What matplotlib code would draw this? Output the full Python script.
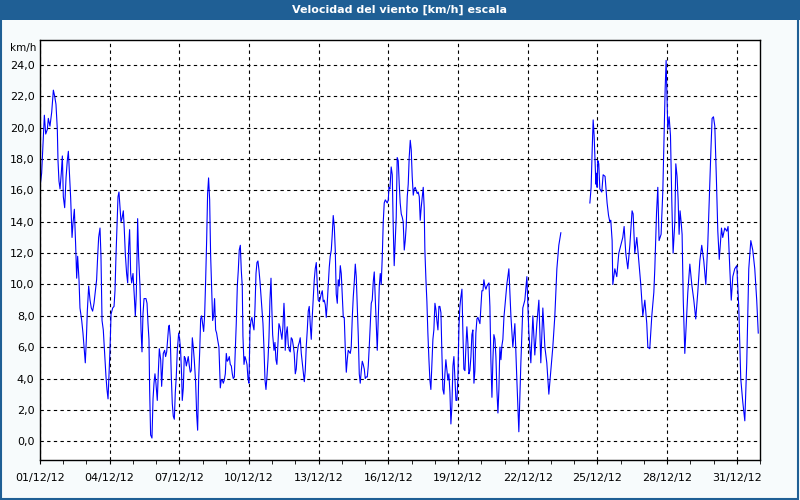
import numpy as np
import pandas as pd
import matplotlib
matplotlib.use("Agg")
import matplotlib.pyplot as plt
import matplotlib.dates as mdates
from matplotlib.patches import Rectangle

# hours since 01/12/2012 00:00, and wind speed in km/h
hours = [
    0.0, 1.7, 3.4, 4.5, 5.9, 7.6, 8.6, 10.3, 12.1, 13.8, 15.2, 16.5, 17.9, 18.6, 19.6, 20.7, 22.0, 23.1,
    24.1, 25.5, 26.9, 28.2, 29.3, 30.3, 31.7, 33.1, 34.1, 35.5, 36.9, 37.9, 38.9, 40.3, 41.3, 43.1, 44.4,
    45.8, 46.8, 47.9, 48.9, 50.3, 51.7, 53.0, 54.4, 55.8, 57.2, 58.5, 59.6, 60.6, 62.0, 63.0, 64.1, 65.4,
    66.8, 68.2, 69.2, 70.3, 71.3, 72.3, 73.4, 75.1, 76.5, 77.5, 78.5, 79.6, 80.6, 81.6, 82.7, 83.7, 84.7,
    86.1, 87.1, 88.2, 89.5, 90.6, 91.6, 92.6, 93.7, 94.7, 96.1, 97.5, 98.5, 99.5, 100.2, 100.9, 101.9,
    103.3, 104.4, 105.4, 106.4, 107.5, 109.5, 110.6, 111.6, 112.6, 113.3, 114.3, 115.7, 116.8, 117.8,
    118.8, 119.8, 121.2, 122.2, 123.3, 124.7, 125.7, 126.4, 127.4, 128.8, 129.8, 130.9, 131.9, 132.9,
    133.6, 134.6, 135.7, 136.7, 137.7, 138.8, 139.8, 140.8, 141.9, 143.3, 144.3, 145.3, 146.4, 147.0,
    148.1, 149.1, 150.1, 151.2, 152.2, 153.2, 154.3, 155.3, 156.3, 157.4, 158.4, 159.4, 160.8, 161.9,
    162.9, 163.9, 165.0, 166.0, 167.0, 168.0, 169.1, 170.1, 171.1, 172.2, 173.2, 174.2, 175.3, 176.3,
    177.3, 178.4, 179.4, 180.4, 181.5, 182.5, 183.5, 184.9, 186.3, 187.3, 188.4, 189.4, 190.4, 191.5,
    192.5, 193.5, 194.6, 195.6, 196.6, 197.7, 198.7, 199.7, 200.8, 201.8, 202.8, 203.9, 204.9, 205.9,
    207.0, 208.0, 209.0, 209.7, 210.8, 211.8, 212.8, 213.9, 214.9, 215.9, 217.0, 218.0, 219.0, 220.1,
    221.1, 222.1, 223.2, 224.2, 225.2, 226.3, 227.3, 228.3, 229.4, 230.4, 231.4, 232.5, 233.5, 234.5,
    235.6, 236.6, 237.6, 238.7, 239.3, 240.4, 241.8, 242.8,
    243.8, 244.8, 245.9, 246.9, 247.9, 249.0, 250.0, 251.0, 252.1, 252.8, 253.4, 254.5, 255.5, 256.5,
    257.6, 258.6, 259.6, 260.7, 261.7, 262.7, 263.8, 264.8, 265.8, 266.9, 267.9, 268.9, 270.0, 271.0,
    272.0, 273.1, 274.1, 275.1, 276.2, 277.2, 278.2, 279.3, 280.3, 281.3, 282.4, 283.4, 284.4, 285.5,
    286.5, 287.5, 288.6, 289.6, 290.6, 291.7, 292.7, 293.7, 294.8, 295.8, 296.8, 297.9, 298.9, 299.9,
    301.0, 302.0, 303.0, 304.1, 305.1, 306.1, 307.2, 308.2, 309.2, 310.3, 311.3, 312.3, 313.4, 314.4,
    315.4, 316.5, 317.5, 318.5, 319.6, 320.6, 321.6, 322.7, 323.7, 324.7, 325.8, 326.8, 327.8, 328.9,
    329.9, 330.9, 332.0, 333.0, 334.0, 335.1, 336.1, 337.1, 338.2, 339.2, 340.2, 341.3, 342.3, 343.3,
    344.4, 345.4, 346.4, 347.5, 348.5, 349.5, 350.6, 351.6, 352.6, 353.7, 354.7, 355.7, 356.8, 357.8,
    358.8, 359.9, 360.6, 361.6,
    362.9, 364.0, 365.0, 366.0, 367.1, 368.1, 369.1, 370.2, 371.2, 372.2, 373.3, 374.3, 375.3, 376.4,
    377.4, 378.4, 379.5, 380.5, 381.5, 382.6, 383.6, 384.6, 385.7, 386.7, 387.7, 388.8, 389.8, 390.8,
    391.9, 392.9, 393.9, 395.0, 396.0, 397.0, 397.7, 398.8, 399.8, 400.8, 401.9, 402.9, 403.9, 405.0,
    406.0, 407.0, 408.1, 409.1, 410.1, 411.2, 412.2, 413.2, 414.3, 415.3, 416.3, 417.4, 418.4, 419.4,
    420.5, 421.5, 422.5, 423.6, 424.6, 425.6, 426.7, 427.7, 428.7, 429.8, 430.8, 431.8, 432.9, 433.9,
    434.9, 436.0, 437.0, 438.0, 439.1, 440.1, 441.1, 442.2, 443.2, 444.2, 445.3, 446.3, 447.3, 448.4,
    449.4, 450.4, 451.5, 452.5, 453.5, 454.6, 455.6, 456.6, 457.7, 458.7, 459.7, 460.8, 461.8, 462.8,
    463.9, 464.9, 465.9, 467.0, 468.0, 469.0, 470.1, 471.1, 472.1, 473.2, 474.2, 475.2, 476.3, 477.3,
    478.3, 479.4, 480.4,
    482.4, 484.5, 486.6, 488.6, 490.7, 492.7, 494.8, 496.9, 498.9, 501.0, 503.1, 505.1, 507.2, 509.3,
    511.3, 513.4, 515.5, 517.5, 519.6, 521.7, 523.7, 525.8, 527.9, 529.9, 532.0, 534.1, 536.1, 538.2,
    553.0,
    568.2, 569.5, 570.6, 571.6, 572.6, 573.7, 574.4, 575.1, 575.7, 576.4, 577.4, 578.5, 580.5, 581.9,
    583.9, 586.0, 587.5, 588.8, 589.8, 591.2, 591.9, 594.0, 596.0, 598.1, 600.2, 602.2, 603.6, 605.3,
    607.4, 609.5, 611.8, 612.9, 614.6, 616.7, 618.8, 620.8, 622.9, 625.0, 627.0, 628.1, 630.1, 632.2,
    634.3, 635.3, 637.1, 638.4, 639.7, 641.8, 643.6, 644.6, 646.0, 647.0, 647.7, 648.7, 650.1, 651.5,
    652.1, 652.9, 654.2, 656.0, 657.0, 658.3, 659.4, 660.4, 661.4, 662.5, 663.5, 664.7, 666.3, 667.8,
    669.4, 671.5, 673.5, 675.6, 677.6, 679.7, 681.8, 683.8, 685.9, 688.0, 690.0, 692.1, 693.4, 694.5,
    695.9, 697.3, 699.0, 700.4, 701.9, 704.2, 705.5, 707.6, 709.7, 711.0, 712.8, 714.3, 715.9, 717.9,
    720.0, 722.1, 724.1, 726.2, 728.3, 730.3, 732.4, 734.5, 736.5, 738.6, 740.6, 742.2,
]

speed = [
    16.2, 17.1, 19.4, 20.8, 19.6, 19.9, 20.6, 20.1, 21.0, 22.4, 22.0, 21.5, 19.9, 17.9, 16.6, 16.1, 17.1, 18.2,
    15.6, 14.9, 16.8, 17.9, 18.5, 17.3, 15.5, 13.0, 13.9, 14.8, 12.4, 10.4, 11.8, 10.3, 8.5, 7.7, 6.9,
    5.8, 5.0, 6.5, 8.3, 9.9, 9.0, 8.5, 8.3, 8.8, 9.6, 10.3, 11.8, 13.0, 13.6, 11.8, 7.7, 7.1,
    5.6, 4.1, 3.3, 2.7, 4.3, 5.8, 8.1, 8.5, 8.6, 9.6, 11.8, 13.9, 15.6, 15.9, 14.9, 14.0, 14.2,
    14.7, 13.5, 11.9, 10.7, 10.1, 12.4, 13.5, 10.7, 10.1, 10.7, 9.2, 8.0, 9.4, 11.6, 14.2, 11.8,
    9.9, 7.1, 5.7, 8.1, 9.1, 9.1, 8.8, 7.5, 6.5, 3.3, 0.4, 0.2, 2.7, 3.7,
    4.3, 3.7, 2.6, 4.3, 5.9, 5.2, 3.5, 4.4, 5.6, 5.8, 5.4, 5.7, 6.5, 7.3,
    7.4, 6.6, 4.1, 2.4, 1.6, 1.4, 3.1, 4.1, 5.8, 6.9, 6.5, 5.8, 4.1, 2.6,
    3.4, 5.4, 5.3, 4.8, 5.1, 5.4, 4.8, 4.4, 4.5, 6.6, 6.0, 5.2, 3.8, 1.7,
    0.7, 3.9, 5.7, 7.8, 8.0, 7.5, 7.0, 8.0, 10.1, 12.8, 15.8, 16.8, 15.4, 11.9,
    9.9, 7.7, 8.0, 9.1, 7.1, 6.9, 6.5, 6.0, 3.4, 3.9, 3.9, 3.7, 3.9, 4.3,
    5.6, 5.1, 5.2, 5.4, 4.9, 4.8, 4.3, 4.0, 4.1, 5.8, 7.5, 9.9, 10.9, 12.2,
    12.5, 10.9, 9.9, 6.7, 4.9, 5.4, 5.2, 4.9, 4.0, 3.7, 7.1, 7.7, 7.9, 7.4,
    7.1, 8.4, 10.7, 11.4, 11.5, 10.9, 10.2, 9.3, 8.4, 7.5, 6.0, 3.9, 3.3, 4.1,
    5.2, 6.6, 9.0, 10.4, 9.0, 6.8, 5.8, 6.3,
    5.2, 4.9, 6.2, 7.5, 7.3, 6.9, 6.5, 7.3, 8.8, 7.9, 5.8, 6.9, 7.3, 6.2,
    5.8, 5.7, 6.6, 6.5, 6.1, 5.6, 4.3, 4.6, 5.6, 6.1, 6.3, 6.6, 5.6, 5.0,
    4.4, 3.8, 4.5, 6.0, 7.1, 8.3, 8.6, 7.4, 6.5, 7.9, 9.2, 10.3, 11.0, 11.4,
    10.0, 9.0, 8.9, 9.1, 9.4, 9.6, 8.9, 9.0, 8.7, 7.9, 8.8, 10.0, 11.1, 11.8,
    12.2, 13.2, 14.4, 13.7, 12.2, 9.4, 8.8, 10.3, 9.9, 11.2, 10.7, 9.4, 7.9, 7.9,
    6.0, 4.4, 5.2, 5.8, 5.7, 5.6, 6.0, 7.9, 9.2, 10.1, 11.3, 10.5, 8.6, 6.7,
    4.3, 3.7, 4.5, 5.1, 4.9, 4.6, 4.0, 4.1, 4.1, 4.8, 6.0, 7.5, 8.8, 9.0,
    10.2, 10.8, 9.2, 7.3, 5.8, 7.7, 9.9, 10.7, 10.0, 11.8, 14.0, 15.2, 15.4, 15.3,
    15.2, 15.4, 16.2, 16.1,
    17.5, 17.0, 13.7, 11.2, 12.8, 14.3, 18.1, 17.9, 16.4, 15.2, 14.5, 14.3, 14.0, 12.2,
    12.8, 13.7, 15.6, 16.4, 18.1, 19.2, 18.6, 16.9, 15.7, 16.1, 16.2, 16.0, 15.8, 15.9,
    15.6, 14.1, 14.9, 15.6, 16.2, 14.9, 12.2, 10.3, 8.9, 6.9, 5.2, 3.9, 3.3, 5.0,
    6.5, 7.1, 8.8, 8.4, 7.7, 7.1, 8.6, 8.6, 8.2, 5.6, 3.3, 3.0, 4.3, 5.2,
    4.5, 3.9, 4.3, 3.1, 1.1, 2.2, 4.8, 5.4, 4.1, 2.6, 2.6, 4.0, 7.3, 8.6,
    9.2, 9.7, 6.9, 4.6, 4.5, 6.0, 7.3, 6.2, 4.3, 4.5, 5.4, 6.8, 7.1, 3.7,
    4.5, 6.9, 7.8, 7.9, 7.7, 7.5, 8.6, 9.6, 9.6, 10.3, 9.9, 9.7, 9.9, 10.0,
    10.1, 8.6, 5.2, 2.8, 5.2, 6.8, 6.5, 5.4, 3.3, 1.8, 3.3, 6.0, 5.2, 6.1,
    6.5, 7.9, 8.6,
    10.0, 11.0, 8.0, 6.0, 7.5, 4.0, 0.6, 5.0, 8.5, 9.0, 10.5, 7.0, 5.0, 8.0,
    5.5, 7.5, 9.0, 5.0, 8.5, 6.0, 5.0, 3.0, 4.5, 6.0, 8.0, 11.0, 12.5, 13.3,
    np.nan,
    15.2, 16.2, 18.6, 20.5, 19.5, 17.5, 16.4, 17.1, 16.2, 17.9, 17.7, 16.1, 15.9, 17.0,
    16.9, 15.2, 14.4, 14.0, 14.1, 12.8, 10.0, 11.0, 10.5, 12.0, 12.5, 13.0, 13.7, 12.0,
    11.0, 12.5, 14.7, 14.5, 12.0, 13.0, 11.5, 10.0, 8.0, 9.0, 7.5, 6.0, 5.9, 8.0,
    9.5, 11.0, 14.6, 16.2, 12.8, 13.2, 16.0, 18.8, 22.5, 24.3, 22.4, 19.9, 20.7, 19.5,
    17.7, 15.2, 12.0, 14.0, 17.7, 16.9, 15.4, 13.2, 14.7, 14.0, 13.2, 9.0, 5.6, 7.5,
    9.5, 11.3, 10.0, 9.0, 7.8, 9.5, 11.5, 12.5, 11.5, 10.0, 12.5, 16.4, 18.8, 20.6,
    20.7, 20.1, 16.6, 13.4, 11.6, 13.6, 13.0, 13.6, 13.4, 13.7, 11.0, 9.0, 10.5, 11.0,
    11.2, 8.5, 4.0, 2.5, 1.3, 5.0, 11.0, 12.8, 12.2, 11.0, 9.0, 6.9,
]

title = "Velocidad del viento [km/h] escala"
unit = "km/h"
yticks = np.arange(0, 25, 2)
xticks = pd.date_range("2012-12-01", "2012-12-31", freq="3D")

t = pd.Timestamp("2012-12-01") + pd.to_timedelta(hours, unit="h")

bar = "#1f5f95"
fig = plt.figure(figsize=(8, 5), dpi=100, facecolor="#f7fbfc")
fig.patches.append(Rectangle((0, 0.96), 1, 0.04, transform=fig.transFigure,
                             facecolor=bar, edgecolor="none", zorder=0))
fig.patches.append(Rectangle((0.001, 0.003), 0.997, 0.995, transform=fig.transFigure,
                             facecolor="none", edgecolor=bar, linewidth=1.5, zorder=5))
fig.text(0.5, 0.98, title, color="white", fontsize=8, fontweight="bold",
         ha="center", va="center")

ax = fig.add_axes([0.05, 0.08, 0.9, 0.84])
ax.set_facecolor("white")
ax.plot(t, speed, color="#0000ff", linewidth=0.8)

ax.set_xlim(pd.Timestamp("2012-12-01"), pd.Timestamp("2013-01-01"))
ax.set_ylim(-1.2, 25.6)
ax.set_yticks(yticks)
ax.set_yticklabels([f"{v:.1f}".replace(".", ",") for v in yticks])

ax.set_xticks(xticks)
ax.xaxis.set_minor_locator(mdates.DayLocator())
ax.xaxis.set_major_formatter(mdates.DateFormatter("%d/%m/%y"))

ax.grid(True, which="major", color="black", linestyle=(0, (3, 3)), linewidth=0.8)
ax.tick_params(axis="x", which="both", direction="out", length=3, labelsize=8, pad=6)
ax.tick_params(axis="y", length=0, labelsize=8, pad=4)
for s in ax.spines.values():
    s.set_linewidth(1)
    s.set_color("black")

fig.text(0.046, 0.905, unit, fontsize=7.5, ha="right", va="center")

fig.savefig("out.png", dpi=100, facecolor=fig.get_facecolor())
